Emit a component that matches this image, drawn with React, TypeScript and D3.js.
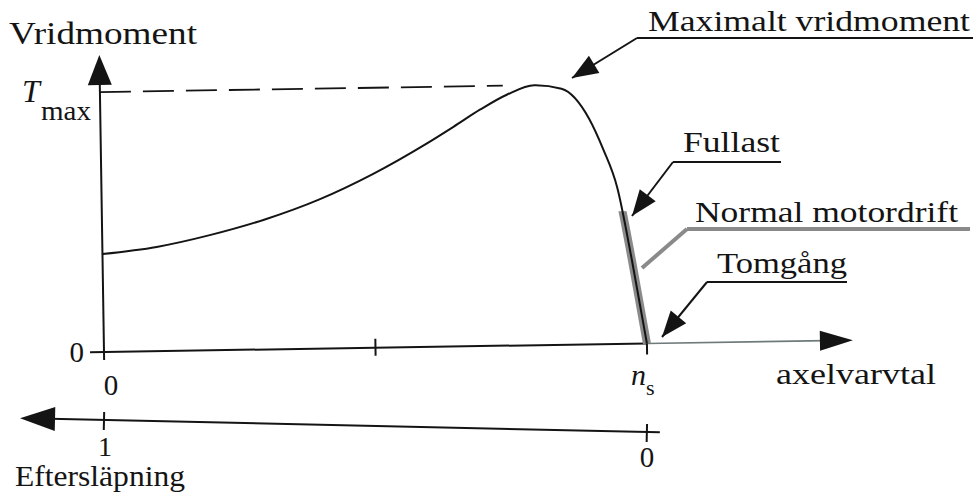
import React from "react";
import * as d3 from "d3";

// ---- data ----
// shaft speed as fraction of synchronous speed n_s
const speed = [0, 0.1, 0.2, 0.3, 0.4, 0.5, 0.6, 0.65, 0.7, 0.75, 0.8, 0.85, 0.9, 0.925, 0.95, 0.975, 1.0];
// torque as fraction of T_max
const torque = [0.377, 0.401, 0.444, 0.5, 0.573, 0.668, 0.782, 0.845, 0.91, 0.966, 1.0, 0.985, 0.868, 0.75, 0.6, 0.318, 0];
// normal operating range: torque from full load down to no load
const fullLoadTorque = 0.51;
const bandStartSpeed = 0.9;
const speedTicks = [0, 0.5, 1];
const speedTickLabels = ["0", "", "n"];
const slipTicks = [1, 0];
const slipTickLabels = ["1", "0"];
const tmaxLevel = 1.0;
const tmaxDashEnd = 0.742;

const FONT = "'Liberation Serif', 'Times New Roman', serif";
const INK = "#141414";
const GRAY = "#8a8a8a";

function head(x1: number, y1: number, x2: number, y2: number, len: number, hw: number) {
  const dx = x2 - x1, dy = y2 - y1;
  const d = Math.hypot(dx, dy);
  const ux = dx / d, uy = dy / d;
  const bx = x2 - ux * len, by = y2 - uy * len;
  const px = -uy * hw, py = ux * hw;
  return `${x2},${y2} ${bx + px},${by + py} ${bx - px},${by - py}`;
}

export default function App() {
  const x = d3.scaleLinear().domain([0, 1]).range([0, 543]);
  const y = d3.scaleLinear().domain([0, 1]).range([0, -260]);
  const slip = d3.scaleLinear().domain([1, 0]).range([0, 543]);

  const pts = speed.map((s, i) => [s, torque[i]] as [number, number]);
  const line = d3
    .line<[number, number]>()
    .x((d) => x(d[0]))
    .y((d) => y(d[1]))
    .curve(d3.curveMonotoneX);
  const curvePath = line(pts) || "";

  const annotations = [
    { text: "Maximalt vridmoment", tx: 648, ty: 31, tw: 322, ux1: 637, ux2: 973, uy: 38, ax: 572, ay: 78, gray: false },
    { text: "Fullast", tx: 683, ty: 152, tw: 97, ux1: 673, ux2: 781, uy: 162, ax: 632, ay: 216, gray: false },
    { text: "Normal motordrift", tx: 695, ty: 222, tw: 263, ux1: 687, ux2: 970, uy: 229, ax: 642, ay: 268, gray: true },
    { text: "Tomgång", tx: 717, ty: 273, tw: 130, ux1: 707, ux2: 847, uy: 282, ax: 662, ay: 337, gray: false },
  ];

  const txt = { fontFamily: FONT };

  return (
    <svg width={975} height={494} style={{ position: "absolute", left: 0, top: 0, background: "#fff" }}>
      <rect width={975} height={494} fill="#fff" />
      <defs>
        <clipPath id="normalBand">
          <rect x={x(bandStartSpeed)} y={y(fullLoadTorque)} width={120} height={y(0) - y(fullLoadTorque) + 8} />
        </clipPath>
      </defs>
      {/* main chart */}
      <g transform="translate(104,352) rotate(-0.9)">
        {/* y axis */}
        <line x1={0} y1={8} x2={0} y2={-270} stroke={INK} strokeWidth={2} />
        <polygon points={head(0, 0, 0, -297, 30, 12)} fill={INK} />
        {/* x axis */}
        <line x1={-14} y1={0} x2={x(1)} y2={0} stroke={INK} strokeWidth={2} />
        <line x1={x(1)} y1={0} x2={722} y2={0} stroke="#6f7a7a" strokeWidth={1.6} />
        <polygon points={head(0, 0, 749, 0, 33, 10)} fill={INK} />
        {speedTicks.slice(1).map((t, i) => (
          <line key={i} x1={x(t)} y1={t === 1 ? -4 : -9} x2={x(t)} y2={t === 1 ? 11 : 8} stroke={INK} strokeWidth={2} />
        ))}
        {/* T_max dashed */}
        <line
          x1={0}
          y1={y(tmaxLevel)}
          x2={x(tmaxDashEnd)}
          y2={y(tmaxLevel)}
          stroke={INK}
          strokeWidth={1.8}
          strokeDasharray="31,12"
        />
        {/* normal operating band */}
        <path d={curvePath} fill="none" stroke={GRAY} strokeWidth={8} clipPath="url(#normalBand)" />
        {/* torque curve */}
        <path d={curvePath} fill="none" stroke={INK} strokeWidth={2} />
      </g>

      {/* slip axis */}
      <g transform="translate(104,420) rotate(1.27)">
        <line x1={-54} y1={0} x2={556} y2={0} stroke={INK} strokeWidth={2} />
        <polygon points={head(0, 0, -84, 0, 35, 12)} fill={INK} />
        {slipTicks.map((t, i) => (
          <line key={i} x1={slip(t)} y1={-8} x2={slip(t)} y2={10} stroke={INK} strokeWidth={2} />
        ))}
      </g>

      {/* axis labels */}
      <text x={9} y={44} fontSize={32} fill={INK} style={txt} textLength={188} lengthAdjust="spacingAndGlyphs">
        Vridmoment
      </text>
      <text x={22} y={102} fontSize={32} fontStyle="italic" fill={INK} style={txt}>
        T
      </text>
      <text x={41} y={120} fontSize={28} fill={INK} style={txt} textLength={50} lengthAdjust="spacingAndGlyphs">
        max
      </text>
      <text x={84} y={362} fontSize={29} fill={INK} style={txt} textAnchor="end">
        0
      </text>
      <text x={111} y={395} fontSize={29} fill={INK} style={txt} textAnchor="middle">
        {speedTickLabels[0]}
      </text>
      <text x={631} y={385} fontSize={30} fontStyle="italic" fill={INK} style={txt}>
        {speedTickLabels[2]}
      </text>
      <text x={646} y={395} fontSize={22} fill={INK} style={txt}>
        s
      </text>
      <text x={776} y={384} fontSize={30} fill={INK} style={txt} textLength={160} lengthAdjust="spacingAndGlyphs">
        axelvarvtal
      </text>
      <text x={105} y={456} fontSize={28} fill={INK} style={txt} textAnchor="middle">
        {slipTickLabels[0]}
      </text>
      <text x={647} y={467} fontSize={29} fill={INK} style={txt} textAnchor="middle">
        {slipTickLabels[1]}
      </text>
      <text x={15} y={486} fontSize={29} fill={INK} style={txt} textLength={170} lengthAdjust="spacingAndGlyphs">
        Eftersläpning
      </text>

      {/* annotations */}
      {annotations.map((a, i) => {
        const col = a.gray ? GRAY : INK;
        const sw = a.gray ? 4 : 2;
        return (
          <g key={i}>
            <text x={a.tx} y={a.ty} fontSize={30} fill={INK} style={txt} textLength={a.tw} lengthAdjust="spacingAndGlyphs">
              {a.text}
            </text>
            <line x1={a.ux1} y1={a.uy} x2={a.ux2} y2={a.uy} stroke={col} strokeWidth={sw} />
            <line x1={a.ux1} y1={a.uy} x2={a.ax} y2={a.ay} stroke={col} strokeWidth={sw} />
            {!a.gray && <polygon points={head(a.ux1, a.uy, a.ax, a.ay, 26, 10)} fill={INK} />}
          </g>
        );
      })}
    </svg>
  );
}
